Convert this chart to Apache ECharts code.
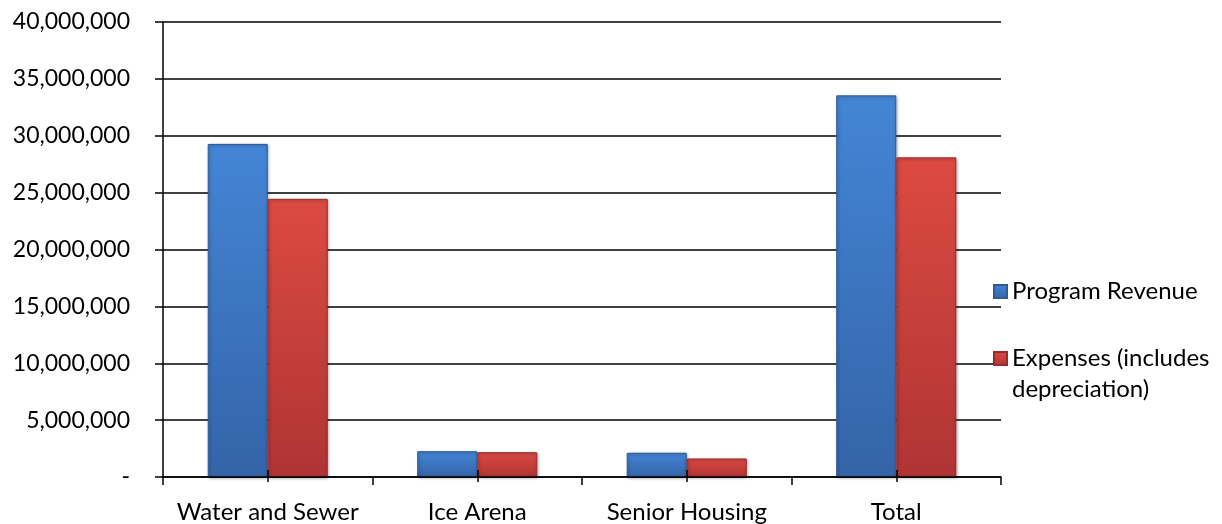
<!DOCTYPE html>
<html>
<head>
<meta charset="utf-8">
<script src="https://cdn.jsdelivr.net/npm/echarts@6/dist/echarts.min.js"></script>
<style>html,body{margin:0;padding:0;background:#fff;}#c{width:1222px;height:524px;}</style>
</head>
<body>
<div id="c"></div>
<script>
const categories = ['Water and Sewer', 'Ice Arena', 'Senior Housing', 'Total'];
const revenue = [29280000, 2270000, 2130000, 33550000];
const expenses = [24450000, 2180000, 1630000, 28100000];
const seriesNames = ['Program Revenue', 'Expenses (includes depreciation)'];
const yTicks = [0, 5000000, 10000000, 15000000, 20000000, 25000000, 30000000, 35000000, 40000000];

const FONT = 'Lato';
const chart = echarts.init(document.getElementById('c'), null, {renderer: 'canvas'});

function grad(top, bottom) {
  return new echarts.graphic.LinearGradient(0, 0, 0, 1, [
    {offset: 0, color: top}, {offset: 1, color: bottom}
  ]);
}

const baseX = {
  type: 'category', data: categories, gridIndex: 0
};

chart.setOption({
  animation: false,
  grid: {left: 163, right: 221, top: 22, bottom: 46.5, containLabel: false},
  legend: {
    orient: 'vertical', left: 993, top: 276, itemGap: 5, padding: 0,
    itemWidth: 13, itemHeight: 13, itemTextGap: 6,
    icon: 'rect',
    data: seriesNames,
    textStyle: {fontFamily: FONT, fontSize: 24, color: '#000', lineHeight: 31},
    formatter: function (n) {
      return n === seriesNames[1] ? '\nExpenses (includes\ndepreciation)' : n;
    }
  },
  xAxis: [
    Object.assign({}, baseX, {
      position: 'bottom', z: 3,
      axisLine: {show: true, lineStyle: {color: '#000', width: 1.5}},
      axisTick: {show: true, length: 8, lineStyle: {color: '#000', width: 1.5}},
      axisLabel: {fontFamily: FONT, fontSize: 24, color: '#000', margin: 23, interval: 0}
    }),
    Object.assign({}, baseX, {
      position: 'bottom', z: 3,
      axisLine: {show: false},
      axisTick: {show: true, alignWithLabel: true, inside: true, length: 7, lineStyle: {color: '#000', width: 1.5}},
      axisLabel: {show: false}
    }),
    Object.assign({}, baseX, {
      position: 'bottom', z: 3,
      axisLine: {show: false},
      axisTick: {show: true, alignWithLabel: true, length: 5, lineStyle: {color: '#000', width: 1.5}},
      axisLabel: {show: false}
    })
  ],
  yAxis: {
    type: 'value',
    min: yTicks[0], max: yTicks[yTicks.length - 1], interval: yTicks[1] - yTicks[0],
    axisLine: {show: true, lineStyle: {color: '#000', width: 1.5}},
    axisTick: {show: true, length: 8, lineStyle: {color: '#000', width: 1.5}},
    splitLine: {show: true, lineStyle: {color: '#000', width: 1.5}},
    axisLabel: {
      fontFamily: FONT, fontSize: 23, color: '#000', margin: 33,
      formatter: function (v) { return v === 0 ? '-' : v.toLocaleString('en-US'); }
    }
  },
  series: [
    {
      name: seriesNames[0], type: 'bar', data: revenue, xAxisIndex: 0,
      barGap: '0%', barCategoryGap: '42.7%',
      itemStyle: {
        color: grad('#4485d6', '#3464a8'),
        borderColor: '#2d5a96', borderWidth: 1,
        shadowBlur: 3, shadowColor: 'rgba(0,0,0,0.35)', shadowOffsetX: 1, shadowOffsetY: 1
      }
    },
    {
      name: seriesNames[1], type: 'bar', data: expenses, xAxisIndex: 0,
      barGap: '0%', barCategoryGap: '42.7%',
      itemStyle: {
        color: grad('#dc4a42', '#b03434'),
        borderColor: '#962c2c', borderWidth: 1,
        shadowBlur: 3, shadowColor: 'rgba(0,0,0,0.35)', shadowOffsetX: 1, shadowOffsetY: 1
      }
    }
  ]
});
</script>
</body>
</html>
